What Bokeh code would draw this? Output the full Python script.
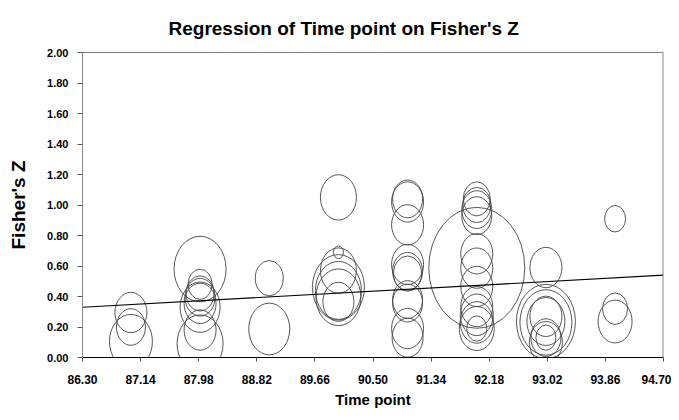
from bokeh.plotting import figure
from bokeh.models import ColumnDataSource, FixedTicker, Span, Range1d, CustomJSTickFormatter
from bokeh.embed import file_html
from bokeh.resources import INLINE

# ---- data ----
time_point = [87, 87, 87,
              88, 88, 88, 88, 88, 88, 88, 88,
              89, 89,
              90, 90, 90, 90, 90, 90, 90,
              91, 91, 91, 91, 91, 91, 91, 91, 91, 91,
              92, 92, 92, 92, 92, 92, 92, 92, 92, 92, 92, 92, 92,
              93, 93, 93, 93, 93, 93, 93, 93,
              94, 94, 94]
fisher_z = [0.295, 0.20, 0.105,
            0.58, 0.48, 0.42, 0.395, 0.355, 0.33, 0.18, 0.09,
            0.52, 0.187,
            1.05, 0.69, 0.57, 0.46, 0.44, 0.395, 0.365,
            1.04, 1.02, 0.87, 0.61, 0.565, 0.55, 0.38, 0.357, 0.19, 0.13,
            0.588, 1.04, 1.00, 0.97, 0.93, 0.68, 0.586, 0.466, 0.334, 0.28, 0.23, 0.19, 0.19,
            0.59, 0.236, 0.23, 0.236, 0.27, 0.13, 0.13, 0.10,
            0.91, 0.32, 0.236]
bubble_weight = [3.2, 2.9, 4.3,
                 5.2, 2.4, 2.8, 3.0, 3.2, 4.0, 3.2, 4.6,
                 2.8, 4.1,
                 3.6, 1.0, 3.6, 5.2, 4.6, 4.5, 3.1,
                 3.0, 3.2, 3.2, 3.2, 3.0, 2.8, 3.0, 3.0, 3.2, 3.1,
                 9.6, 2.7, 2.8, 3.0, 3.0, 3.2, 3.2, 3.2, 3.2, 3.3, 3.3, 3.5, 2.0,
                 3.2, 5.9, 5.2, 3.8, 3.2, 3.0, 2.0, 3.3,
                 2.1, 2.5, 3.4]
reg_x = [86.30, 94.70]
reg_y = [0.33, 0.54]
x_ticks = [86.30, 87.14, 87.98, 88.82, 89.66, 90.50, 91.34, 92.18, 93.02, 93.86, 94.70]
y_ticks = [0.0, 0.2, 0.4, 0.6, 0.8, 1.0, 1.2, 1.4, 1.6, 1.8, 2.0]

scale = 10.0
aspect = 1.26
src = ColumnDataSource(dict(
    x=time_point, y=fisher_z,
    w=[b * scale for b in bubble_weight],
    h=[b * scale * aspect for b in bubble_weight],
))

FONT = "Liberation Sans"

p = figure(width=671, height=412, output_backend="svg", toolbar_location=None,
           x_range=Range1d(86.30, 94.70), y_range=Range1d(0, 2.0),
           min_border_left=82, min_border_right=8, min_border_top=52, min_border_bottom=55,
           title="Regression of Time point on Fisher's Z")

p.title.text_font = FONT
p.title.text_font_size = "19px"
p.title.text_font_style = "bold"
p.title.text_color = "black"
p.title.align = "left"
p.title.vertical_align = "bottom"
p.title.offset = 86
p.title.standoff = 28

p.grid.visible = False
p.outline_line_color = None
p.background_fill_color = "white"
p.border_fill_color = "white"

p.ellipse(x="x", y="y", width="w", height="h", width_units="screen", height_units="screen",
          fill_color=None, line_color="#444444", line_width=0.9, source=src)
p.line(reg_x, reg_y, line_color="black", line_width=1.1)

p.add_layout(Span(location=2.0, dimension="width", line_color="black", line_width=1))
p.add_layout(Span(location=94.70, dimension="height", line_color="#8a8a8a", line_width=2))

fmt = CustomJSTickFormatter(code="return tick.toFixed(2);")

xa = p.xaxis[0]
xa.ticker = FixedTicker(ticks=x_ticks)
xa.formatter = fmt
xa.axis_label = "Time point"
xa.axis_label_text_font = FONT
xa.axis_label_text_font_size = "15px"
xa.axis_label_text_font_style = "bold"
xa.axis_label_text_color = "black"
xa.axis_label_standoff = 4
xa.major_label_text_font = FONT
xa.major_label_text_font_size = "12px"
xa.major_label_text_font_style = "bold"
xa.major_label_text_color = "black"
xa.major_label_standoff = 13
xa.major_tick_out = 4
xa.major_tick_in = 0
xa.minor_tick_line_color = None
xa.axis_line_color = "black"
xa.major_tick_line_color = "#555555"

ya = p.yaxis[0]
ya.ticker = FixedTicker(ticks=y_ticks)
ya.formatter = fmt
ya.axis_label = "Fisher's Z"
ya.axis_label_text_font = FONT
ya.axis_label_text_font_size = "19px"
ya.axis_label_text_font_style = "bold"
ya.axis_label_text_color = "black"
ya.axis_label_standoff = 15
ya.major_label_text_font = FONT
ya.major_label_text_font_size = "11px"
ya.major_label_text_font_style = "bold"
ya.major_label_text_color = "black"
ya.major_label_standoff = 9
ya.major_tick_out = 5
ya.major_tick_in = 0
ya.minor_tick_line_color = None
ya.axis_line_color = "#8a8a8a"
ya.major_tick_line_color = "#555555"

open("out.html", "w").write(file_html(p, INLINE))
